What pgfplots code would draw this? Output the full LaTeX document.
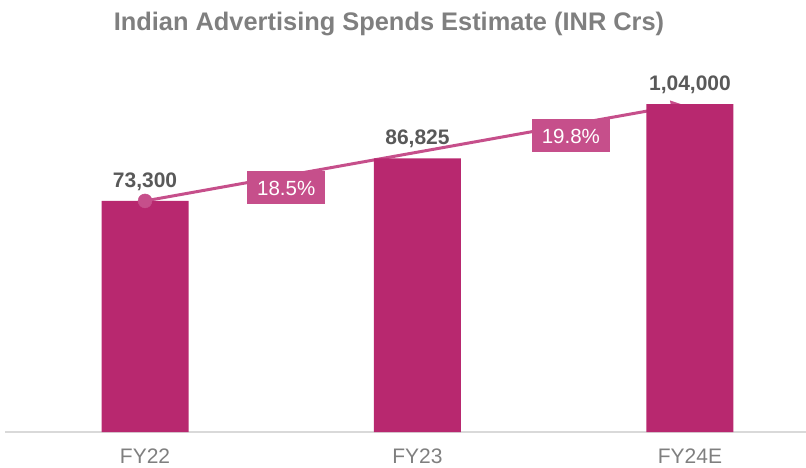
\documentclass[border=0pt]{standalone}
\usepackage{pgfplots}
\pgfplotsset{compat=1.18}
\usepackage{pgfplotstable}
\usepackage{fontspec}
\setmainfont{Liberation Sans}
\usetikzlibrary{arrows.meta}
\definecolor{barc}{HTML}{B8286F}
\definecolor{linec}{HTML}{C64F8B}
\definecolor{valc}{HTML}{595959}
\definecolor{titc}{HTML}{7F7F7F}
\definecolor{axc}{HTML}{D9D9D9}
\pgfplotstableread{
x y label
0 73300 {73,300}
1 86825 {86,825}
2 104000 {1,04,000}
}\spends
\begin{document}
\begin{tikzpicture}
\path[use as bounding box] (0,0) rectangle (806bp,468bp);
\node[anchor=base, font=\bfseries\fontsize{25.4bp}{30bp}\selectfont, text=titc] at (389bp,437bp) {Indian Advertising Spends Estimate (INR Crs)};
\begin{axis}[
  at={(5bp,36bp)}, anchor=south west,
  scale only axis, width=801bp, height=372bp,
  xmin=-0.514, xmax=2.426, ymin=0, ymax=118000,
  axis x line*=bottom, axis y line=none,
  x axis line style={draw=axc, line width=1.5bp, -},
  xtick={0,1,2}, xticklabels={FY22,FY23,FY24E},
  major tick length=0pt,
  xticklabel style={text=titc, font=\fontsize{21bp}{25bp}\selectfont, yshift=-13bp},
  clip=false,
]
\addplot[linec, line width=3bp, -{Triangle[length=12bp,width=12bp]}, shorten >=3bp] coordinates {(0,73300) (1.985,104000)};
\addplot[only marks, mark=*, mark size=7bp, color=linec] coordinates {(0,73300)};
\addplot[ybar, bar width=87bp, fill=barc, draw=none,
  nodes near coords, point meta=explicit symbolic,
  every node near coord/.append style={font=\bfseries\fontsize{21bp}{25bp}\selectfont, text=valc, yshift=7bp}]
  table[x=x, y=y, meta=label] {\spends};
\node[fill=linec, text=white, font=\fontsize{20.5bp}{24bp}\selectfont, minimum width=78bp, minimum height=33bp, inner sep=0pt] at (axis cs:0.518,77400) {18.5\%};
\node[fill=linec, text=white, font=\fontsize{20.5bp}{24bp}\selectfont, minimum width=78bp, minimum height=33bp, inner sep=0pt] at (axis cs:1.563,93900) {19.8\%};
\end{axis}
\end{tikzpicture}
\end{document}
